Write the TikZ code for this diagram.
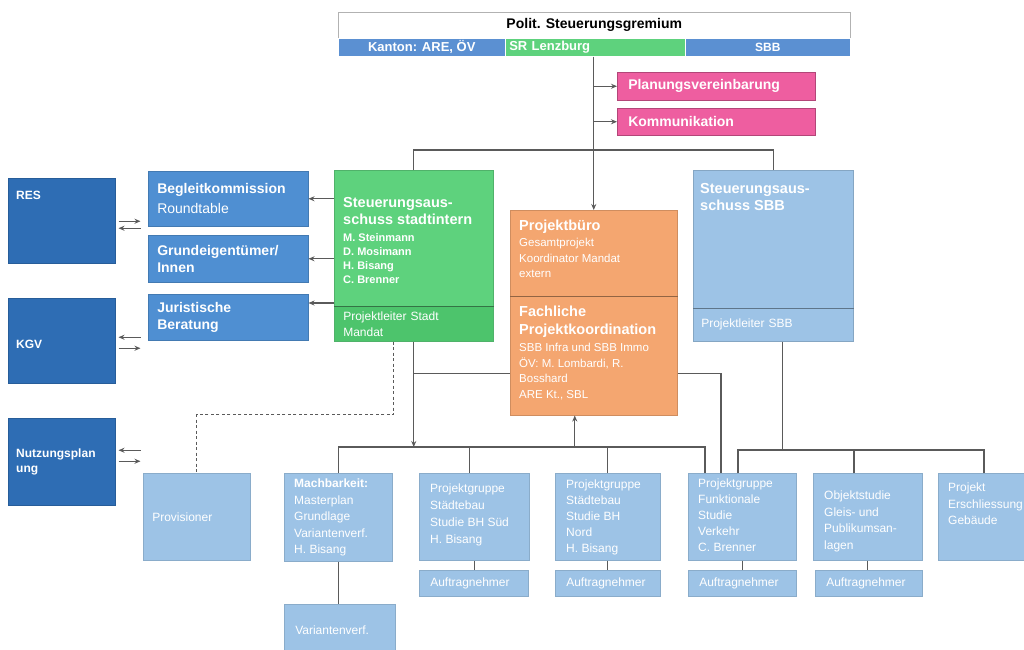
\documentclass[tikz,border=0pt]{standalone}
\usepackage{fontspec}
\setmainfont{Liberation Sans}
\usetikzlibrary{arrows.meta}
\definecolor{cDunkel}{HTML}{2E6DB4}
\definecolor{cMittel}{HTML}{4F8FD2}
\definecolor{cHell}{HTML}{9DC3E6}
\definecolor{cTop}{HTML}{5B90D2}
\definecolor{cGruen}{HTML}{5ED27D}
\definecolor{cGruenB}{HTML}{4DC46C}
\definecolor{cBuero}{HTML}{F4A670}
\definecolor{cRosa}{HTML}{EE5EA0}
\definecolor{cLinie}{HTML}{5A5A5A}
\begin{document}
\begin{tikzpicture}[x=1pt,y=-1pt,
	box/.style={rectangle,inner sep=0pt,anchor=north west,line width=0.5pt,text=white,align=left},
	dunkel/.style={box,fill=cDunkel,draw=cDunkel!85!black},
	mittel/.style={box,fill=cMittel,draw=cMittel!85!black},
	hell/.style={box,fill=cHell,draw=cHell!88!black},
	stadtbox/.style={box,fill=cGruen,draw=cGruen!85!black},
	buerobox/.style={box,fill=cBuero,draw=cBuero!85!black},
	sbbbox/.style={box,fill=cHell,draw=cHell!85!black},
	rosabox/.style={box,fill=cRosa,draw=cRosa!75!black},
	boxtitel/.style={font=\fontsize{14}{17}\selectfont\bfseries},
	boxtext/.style={font=\fontsize{12}{16.5}\selectfont},
	txt/.style={anchor=north west,inner sep=0pt,text=white,align=left,boxtext},
	titel/.style={txt,font=\fontsize{14.5}{17.5}\selectfont\bfseries},
	teiler/.style={line width=0.9pt},
	linie/.style={draw=cLinie,line width=1.2pt},
	pfeil/.style={linie,-{Stealth[length=6pt,width=5pt]}}]
\clip (0,0) rectangle (1024,649);
\fill[white] (0,0) rectangle (1024,649);
\node[box,fill=white,draw=gray!60,text=black,align=center,minimum width=512pt,minimum height=26pt,font=\fontsize{14}{16}\selectfont\bfseries] (polit) at (338,12) {Polit. Steuerungsgremium};
\node[box,fill=cTop,draw=white,align=center,minimum width=167pt,minimum height=18pt,font=\fontsize{13}{15}\selectfont\bfseries] (kanton) at (338,38) {Kanton: ARE, ÖV};
\node[box,fill=cGruen,draw=white,minimum width=180pt,minimum height=18pt,text width=172pt,font=\fontsize{13}{15}\selectfont\bfseries] (srl) at (505,38) {SR Lenzburg};
\node[box,fill=cTop,draw=white,align=center,minimum width=165pt,minimum height=18pt,font=\fontsize{12}{15}\selectfont\bfseries] (sbbtop) at (685,38) {SBB};
\node[rosabox,minimum width=198pt,minimum height=28pt,text width=176pt,boxtitel] (plan) at (617,72) {Planungsvereinbarung};
\node[rosabox,minimum width=198pt,minimum height=27pt,text width=176pt,boxtitel] (komm) at (617,108) {Kommunikation};
\node[stadtbox,minimum width=159pt,minimum height=136pt] (stad) at (334,170) {};
\node[stadtbox,fill=cGruenB,minimum width=159pt,minimum height=35pt,text width=141pt,font=\fontsize{12}{16}\selectfont] (stadpl) at (334,306) {Projektleiter Stadt\\Mandat};
\draw[teiler,cGruen!55!black] (stad.south west) -- (stad.south east);
\node[titel] (stadtitel) at ([shift={(9,27)}]stad.north west) {Steuerungsaus-\\schuss stadtintern};
\node[txt,font=\fontsize{11}{14}\selectfont\bfseries] (stadnamen) at ([shift={(9,63)}]stad.north west) {M. Steinmann\\D. Mosimann\\H. Bisang\\C. Brenner};
\node[buerobox,minimum width=167pt,minimum height=86pt] (proj) at (510,210) {};
\node[buerobox,minimum width=167pt,minimum height=119pt] (fach) at (510,296) {};
\draw[teiler,cBuero!60!black] (proj.south west) -- (proj.south east);
\node[titel] (projtitel) at ([shift={(9,10)}]proj.north west) {Projektbüro};
\node[txt,font=\fontsize{11.5}{15.5}\selectfont] (projtxt) at ([shift={(9,28)}]proj.north west) {Gesamtprojekt\\Koordinator Mandat\\extern};
\node[titel] (fachtitel) at ([shift={(9,10)}]fach.north west) {Fachliche\\Projektkoordination};
\node[txt,font=\fontsize{11.5}{15.5}\selectfont] (fachtxt) at ([shift={(9,47)}]fach.north west) {SBB Infra und SBB Immo\\ÖV: M. Lombardi, R.\\Bosshard\\ARE Kt., SBL};
\node[sbbbox,minimum width=160pt,minimum height=138pt] (sbbs) at (693,170) {};
\node[sbbbox,minimum width=160pt,minimum height=33pt,text width=144pt,font=\fontsize{12}{16}\selectfont] (sbbpl) at (693,308) {Projektleiter SBB};
\draw[teiler,cHell!60!black] (sbbs.south west) -- (sbbs.south east);
\node[titel] (sbbtitel) at ([shift={(7,13)}]sbbs.north west) {Steuerungsaus-\\schuss SBB};
\node[mittel,minimum width=160pt,minimum height=55pt,text width=142pt,font=\fontsize{14}{20}\selectfont] (begl) at (148,171) {\textbf{Begleitkommission}\\Roundtable};
\node[mittel,minimum width=160pt,minimum height=47pt,text width=142pt,boxtitel] (grund) at (148,235) {Grundeigentümer/\\Innen};
\node[mittel,minimum width=160pt,minimum height=46pt,text width=142pt,boxtitel] (jur) at (148,294) {Juristische\\Beratung};
\node[dunkel,minimum width=107pt,minimum height=85pt] (res) at (8,178) {};
\node[txt,font=\fontsize{12}{15}\selectfont\bfseries] (restxt) at ([shift={(8,13)}]res.north west) {RES};
\node[dunkel,minimum width=107pt,minimum height=85pt] (kgv) at (8,298) {};
\node[txt,font=\fontsize{12}{15}\selectfont\bfseries] (kgvtxt) at ([shift={(8,42)}]kgv.north west) {KGV};
\node[dunkel,minimum width=107pt,minimum height=87pt,text width=91pt,font=\fontsize{12}{15}\selectfont\bfseries] (nutz) at (8,418) {Nutzungsplan\\ung};
\node[hell,minimum width=107pt,minimum height=87pt,text width=89pt,boxtext] (prov) at (143,473) {Provisioner};
\node[hell,minimum width=108pt,minimum height=88pt] (mach) at (284,473) {};
\node[txt] (machtxt) at ([shift={(10,6)}]mach.north west) {\textbf{Machbarkeit:}\\Masterplan\\Grundlage\\Variantenverf.\\H. Bisang};
\node[hell,minimum width=111pt,minimum height=52pt,text width=89pt,boxtext] (var) at (284,604) {Variantenverf.};
\node[hell,minimum width=110pt,minimum height=87pt] (sued) at (419,473) {};
\node[txt,font=\fontsize{12}{17}\selectfont] (suedtxt) at ([shift={(11,11)}]sued.north west) {Projektgruppe\\Städtebau\\Studie BH Süd\\H. Bisang};
\node[hell,minimum width=109pt,minimum height=26pt,text width=87pt,boxtext] (sauf) at (419,570) {Auftragnehmer};
\node[hell,minimum width=105pt,minimum height=87pt] (nord) at (555,473) {};
\node[txt,font=\fontsize{12}{16}\selectfont] (nordtxt) at ([shift={(11,7)}]nord.north west) {Projektgruppe\\Städtebau\\Studie BH\\Nord\\H. Bisang};
\node[hell,minimum width=105pt,minimum height=26pt,text width=83pt,boxtext] (nauf) at (555,570) {Auftragnehmer};
\node[hell,minimum width=108pt,minimum height=87pt] (verk) at (688,473) {};
\node[txt,font=\fontsize{12}{16}\selectfont] (verktxt) at ([shift={(10,6)}]verk.north west) {Projektgruppe\\Funktionale\\Studie\\Verkehr\\C. Brenner};
\node[hell,minimum width=108pt,minimum height=26pt,text width=86pt,boxtext] (vauf) at (688,570) {Auftragnehmer};
\node[hell,minimum width=109pt,minimum height=87pt] (obj) at (813,473) {};
\node[txt] (objtxt) at ([shift={(11,18)}]obj.north west) {Objektstudie\\Gleis- und\\Publikumsan-\\lagen};
\node[hell,minimum width=107pt,minimum height=26pt,text width=85pt,boxtext] (oauf) at (815,570) {Auftragnehmer};
\node[hell,minimum width=95pt,minimum height=87pt] (ersch) at (938,473) {};
\node[txt] (erschtxt) at ([shift={(10,10)}]ersch.north west) {Projekt\\Erschliessung\\Gebäude};
\draw[pfeil] (srl.south -| proj.north) -- (proj.north);
\draw[pfeil] (plan.west -| proj.north) -- (plan.west);
\draw[pfeil] (komm.west -| proj.north) -- (komm.west);
\draw[linie] (stad.north) -- ++(0,-20) -| (sbbs.north);
\draw[pfeil] (stad.west |- begl.east) -- (begl.east);
\draw[pfeil] (stad.west |- grund.east) -- (grund.east);
\draw[pfeil] ([yshift=-9pt]stad.west |- jur.north) -- ([yshift=-9pt]jur.north east);
\draw[pfeil] ([shift={(3,0.5)}]res.east) -- ++(22,0);
\draw[pfeil] ([shift={(25,7.5)}]res.east) -- ++(-22,0);
\draw[pfeil] ([shift={(25,-3.5)}]kgv.east) -- ++(-22,0);
\draw[pfeil] ([shift={(3,7.5)}]kgv.east) -- ++(22,0);
\draw[pfeil] ([shift={(25,-11.5)}]nutz.east) -- ++(-22,0);
\draw[pfeil] ([shift={(3,-0.5)}]nutz.east) -- ++(22,0);
\draw[linie] ([yshift=-18pt]stadpl.south |- fach.west) -- ([yshift=-18pt]fach.west);
\draw[linie] ([yshift=-18pt]fach.east) -| ([xshift=33pt]verk.north west);
\draw[pfeil] (stadpl.south) -- ([yshift=26pt]stadpl.south |- mach.north);
\draw[linie] (mach.north) -- ++(0,-26) -| ([xshift=17pt]verk.north west);
\draw[linie] ([xshift=-5pt]sued.north) -- ++(0,-26);
\draw[linie] (nord.north) -- ++(0,-26);
\draw[pfeil] ([xshift=-19pt,yshift=26pt]fach.south |- nord.north) -- ([xshift=-19pt]fach.south);
\draw[linie] ([xshift=9pt]sbbpl.south) -- ([xshift=9pt,yshift=23pt]sbbpl.south |- verk.north);
\draw[linie] ([xshift=50pt]verk.north west) -- ++(0,-23) -| ([xshift=46pt]ersch.north west);
\draw[linie] ([xshift=41pt]obj.north west) -- ++(0,-23);
\draw[linie,dash pattern=on 3pt off 2.5pt,line width=1pt] ([xshift=-20pt]stadpl.south) -- ++(0,73) -| (prov.north);
\draw[linie] (mach.south) -- (mach.south |- var.north);
\draw[linie] (sued.south |- sauf.north) -- (sued.south);
\draw[linie] (nord.south) -- (nord.south |- nauf.north);
\draw[linie] (verk.south) -- (verk.south |- vauf.north);
\draw[linie] (obj.south) -- (obj.south |- oauf.north);
\end{tikzpicture}
\end{document}
